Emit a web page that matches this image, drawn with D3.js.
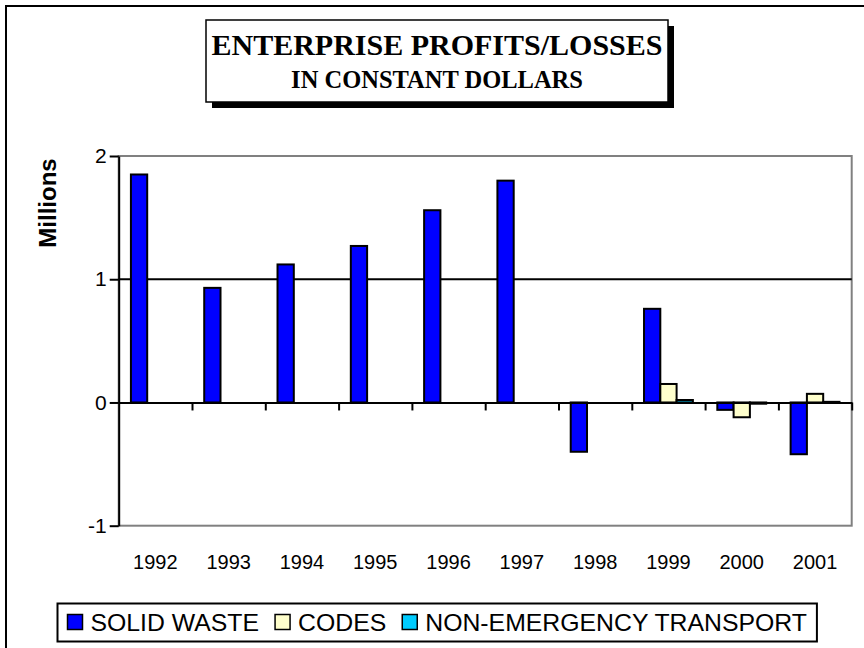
<!DOCTYPE html>
<html>
<head>
<meta charset="utf-8">
<script src="https://cdn.jsdelivr.net/npm/d3@7"></script>
<style>
  body { margin: 0; background: #fff; }
  text { font-family: "Liberation Sans", Arial, sans-serif; fill: #000; }
</style>
</head>
<body>
<script>
var years = ['1992', '1993', '1994', '1995', '1996', '1997', '1998', '1999', '2000', '2001'];
// values in millions of constant dollars, null = no bar
var solidWaste = [1.85, 0.93, 1.12, 1.27, 1.56, 1.80, -0.40, 0.76, -0.06, -0.42];
var codes = [null, null, null, null, null, null, null, 0.15, -0.12, 0.07];
var transport = [null, null, null, null, null, null, null, 0.02, -0.01, 0.005];
var seriesNames = ['SOLID WASTE', 'CODES', 'NON-EMERGENCY TRANSPORT'];
var seriesColors = ['#0000ff', '#ffffcc', '#00ccff'];
var yTicks = [-1, 0, 1, 2];

var width = 864;
var height = 648;

var svg = d3.select('body').append('svg')
    .attr('width', width)
    .attr('height', height);

// outer frame, runs off the right and bottom edge like the screenshot
svg.append('rect')
    .attr('x', 6).attr('y', 6)
    .attr('width', width + 10).attr('height', height + 10)
    .attr('fill', 'none')
    .attr('stroke', '#000')
    .attr('stroke-width', 2);

// title box with drop shadow
var tb = { x: 206, y: 20, w: 462, h: 82 };
svg.append('rect')
    .attr('x', tb.x + 6).attr('y', tb.y + 6)
    .attr('width', tb.w).attr('height', tb.h)
    .attr('fill', '#000');
svg.append('rect')
    .attr('x', tb.x).attr('y', tb.y)
    .attr('width', tb.w).attr('height', tb.h)
    .attr('fill', '#fff')
    .attr('stroke', '#000')
    .attr('stroke-width', 1.5);
svg.append('text')
    .attr('x', tb.x + tb.w / 2).attr('y', 55)
    .attr('text-anchor', 'middle')
    .style('font-family', '"Liberation Serif", "Times New Roman", serif')
    .style('font-weight', 'bold')
    .style('font-size', '30px')
    .text('ENTERPRISE PROFITS/LOSSES');
svg.append('text')
    .attr('x', tb.x + tb.w / 2).attr('y', 88)
    .attr('text-anchor', 'middle')
    .style('font-family', '"Liberation Serif", "Times New Roman", serif')
    .style('font-weight', 'bold')
    .style('font-size', '24.5px')
    .text('IN CONSTANT DOLLARS');

// plot area
var plot = { left: 118.7, right: 851.7, top: 156, bottom: 525.7 };

var x = d3.scaleBand()
    .domain(years)
    .range([plot.left, plot.right]);

var bw = x.bandwidth();
var x1 = d3.scaleBand()
    .domain(d3.range(seriesNames.length))
    .range([bw / 6, bw * 5 / 6]);

var y = d3.scaleLinear()
    .domain([-1, 2])
    .range([plot.bottom, plot.top]);

// gray plot border
svg.append('rect')
    .attr('x', plot.left).attr('y', plot.top)
    .attr('width', plot.right - plot.left)
    .attr('height', plot.bottom - plot.top)
    .attr('fill', 'none')
    .attr('stroke', '#808080')
    .attr('stroke-width', 2);

// black gridline at 1
svg.append('g')
  .selectAll('line')
  .data(yTicks.filter(function(d) { return d === 1; }))
  .enter().append('line')
    .attr('x1', plot.left).attr('x2', plot.right)
    .attr('y1', function(d) { return y(d); })
    .attr('y2', function(d) { return y(d); })
    .attr('stroke', '#000')
    .attr('stroke-width', 2);

// bars
var series = [solidWaste, codes, transport];
var barData = [];
series.forEach(function(vals, s) {
  vals.forEach(function(v, i) {
    if (v !== null) barData.push({ year: years[i], s: s, v: v });
  });
});

svg.append('g')
  .selectAll('rect')
  .data(barData)
  .enter().append('rect')
    .attr('x', function(d) { return x(d.year) + x1(d.s); })
    .attr('width', x1.bandwidth())
    .attr('y', function(d) { return y(Math.max(0, d.v)); })
    .attr('height', function(d) { return Math.abs(y(d.v) - y(0)); })
    .attr('fill', function(d) { return seriesColors[d.s]; })
    .attr('stroke', '#000')
    .attr('stroke-width', 2);

// category axis on the zero line, ticks between categories
var xIdx = d3.scaleLinear().domain([0, years.length]).range([plot.left, plot.right]);
var xAxis = svg.append('g')
    .attr('transform', 'translate(0,' + y(0) + ')')
    .call(d3.axisBottom(xIdx)
      .tickValues(d3.range(1, years.length + 1))
      .tickSize(8)
      .tickSizeOuter(0)
      .tickFormat(''));
xAxis.select('.domain').attr('stroke-width', 2);
xAxis.selectAll('.tick line').attr('stroke-width', 2);

// year labels down at the bottom
var yearAxis = svg.append('g')
    .attr('transform', 'translate(0,555)')
    .call(d3.axisBottom(x).tickSize(0).tickPadding(0));
yearAxis.select('.domain').remove();
yearAxis.selectAll('text')
    .style('font-family', '"Liberation Sans", Arial, sans-serif')
    .style('font-size', '20px');

// value axis
var yAxis = svg.append('g')
    .attr('transform', 'translate(' + plot.left + ',0)')
    .call(d3.axisLeft(y)
      .tickValues(yTicks)
      .tickSize(9)
      .tickSizeOuter(0)
      .tickPadding(3)
      .tickFormat(function(d) { return String(d); }));
yAxis.select('.domain').attr('stroke-width', 2);
yAxis.selectAll('.tick line').attr('stroke-width', 2);
yAxis.selectAll('text')
    .style('font-family', '"Liberation Sans", Arial, sans-serif')
    .style('font-size', '21px');

svg.append('text')
    .attr('transform', 'translate(56,203) rotate(-90)')
    .attr('text-anchor', 'middle')
    .style('font-weight', 'bold')
    .style('font-size', '24px')
    .text('Millions');

// legend
var lg = svg.append('g');
var legBox = lg.append('rect')
    .attr('y', 603.5).attr('height', 38)
    .attr('fill', '#fff')
    .attr('stroke', '#000')
    .attr('stroke-width', 2);

var cx = 67.5;
seriesNames.forEach(function(name, i) {
  lg.append('rect')
      .attr('x', cx).attr('y', 614.5)
      .attr('width', 15).attr('height', 15)
      .attr('fill', seriesColors[i])
      .attr('stroke', '#000')
      .attr('stroke-width', 1.5);
  var t = lg.append('text')
      .attr('x', cx + 23).attr('y', 631)
      .style('font-size', '24.8px')
      .text(name);
  cx += 23 + t.node().getComputedTextLength() + 16;
});
legBox.attr('x', 57.5).attr('width', cx - 16 + 10 - 57.5);
</script>
</body>
</html>
